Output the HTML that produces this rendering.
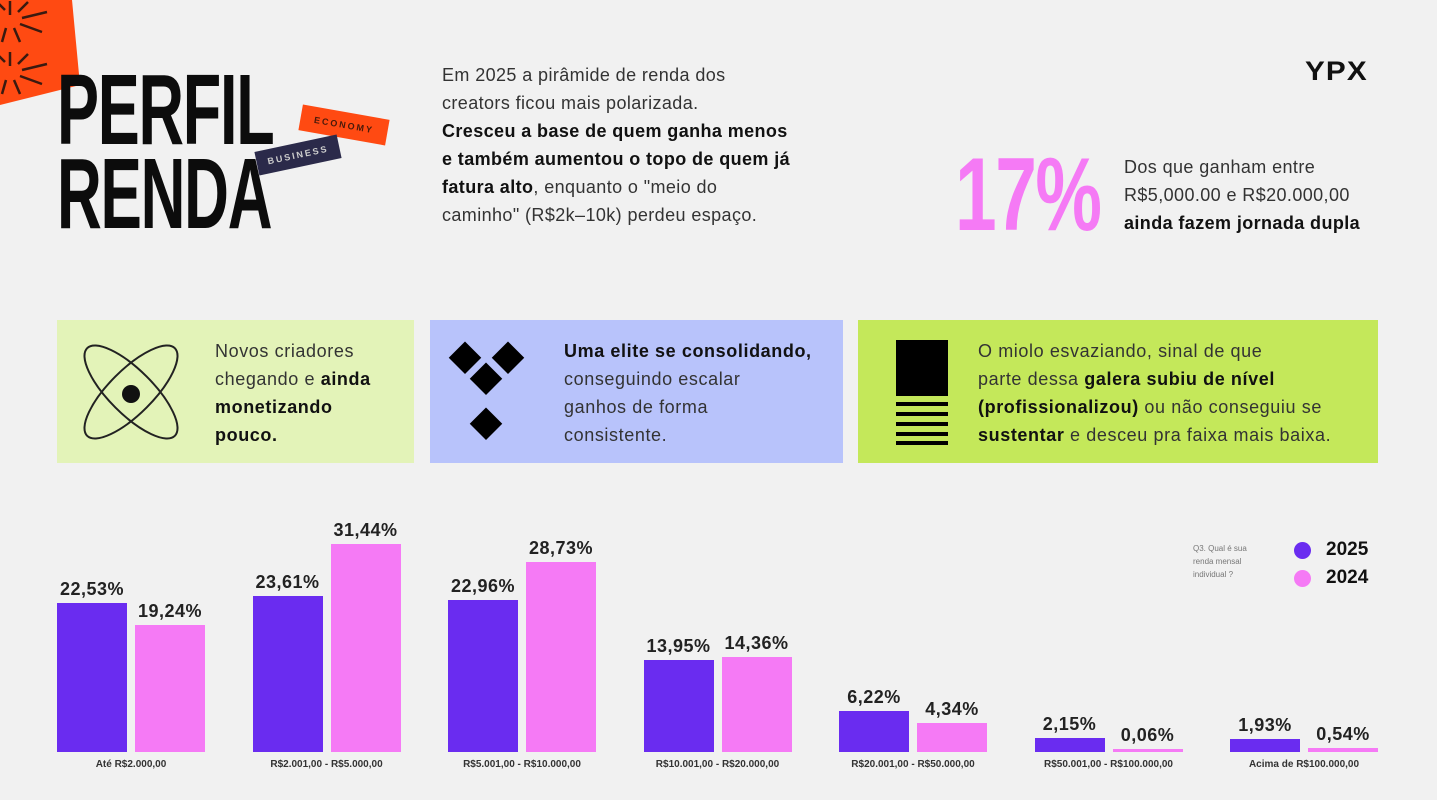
<!DOCTYPE html>
<html><head><meta charset="utf-8">
<style>
body{margin:0;width:1437px;height:800px;background:#f1f1f1;position:relative;overflow:hidden;font-family:"Liberation Sans",sans-serif;color:#222}
.a{position:absolute}
.big{font-weight:900;font-size:100px;line-height:1;transform-origin:0 0;color:#0c0c0c;letter-spacing:-2px}
.p{font-size:18px;line-height:28px;color:#333;letter-spacing:0.4px;white-space:nowrap}
.p b{color:#111}
.panel{position:absolute;top:320px;height:143px}
.pt{position:absolute;font-size:18px;line-height:28px;color:#333;letter-spacing:0.6px;white-space:nowrap}
.pt b{color:#111}
</style></head><body>
<svg class="a" style="left:0;top:0" width="90" height="110">
<polygon points="0,0 72,0 80,85 0,105" fill="#ff4a12"/>
<g stroke="#3a1a10" stroke-width="2.5" fill="none">
<path d="M5,10 l-8,-8 M10,15 l0,-14 M18,12 l10,-10 M22,18 l25,-6 M20,24 l22,8 M14,28 l6,14 M6,28 l-4,14"/>
<path d="M5,62 l-8,-8 M10,66 l0,-14 M18,64 l10,-10 M22,70 l25,-6 M20,76 l22,8 M14,80 l6,14 M6,80 l-4,14"/>
</g></svg>
<div class="a big" style="left:57px;top:60px;transform:scaleX(0.63)">PERFIL</div>
<div class="a big" style="left:57px;top:144px;transform:scaleX(0.62)">RENDA</div>
<div class="a" style="left:300px;top:112px;width:88px;height:26px;background:#ff4a12;transform:rotate(10deg);font-size:9px;font-weight:bold;letter-spacing:2px;text-align:center;line-height:26px;color:#4a1a0a">ECONOMY</div>
<div class="a" style="left:256px;top:143px;width:84px;height:24px;background:#2b2a4a;transform:rotate(-12deg);font-size:9px;font-weight:bold;letter-spacing:2px;text-align:center;line-height:24px;color:#ccc">BUSINESS</div>
<div class="a p" style="left:442px;top:61px">Em 2025 a pirâmide de renda dos<br>creators ficou mais polarizada.<br><b>Cresceu a base de quem ganha menos<br>e também aumentou o topo de quem já<br>fatura alto</b>, enquanto o "meio do<br>caminho" (R$2k–10k) perdeu espaço.</div>
<div class="a" style="left:1305px;top:56px;font-size:27px;font-weight:900;color:#111;letter-spacing:1px;transform:scaleX(1.1);transform-origin:0 0">YPX</div>
<div class="a big" style="left:955px;top:143px;color:#f57af5;font-size:104px;transform:scaleX(0.72)">17%</div>
<div class="a p" style="left:1124px;top:153px">Dos que ganham entre<br>R$5,000.00 e R$20.000,00<br><b>ainda fazem jornada dupla</b></div>

<div class="panel" style="left:57px;width:357px;background:#e3f3b8">
<svg class="a" style="left:20px;top:18px" width="110" height="110"><g fill="none" stroke="#222" stroke-width="2"><ellipse cx="54" cy="54" rx="62" ry="22" transform="rotate(45 54 54)"/><ellipse cx="54" cy="54" rx="62" ry="22" transform="rotate(-45 54 54)"/></g><circle cx="54" cy="56" r="9" fill="#111"/></svg>
<div class="pt" style="left:158px;top:17px">Novos criadores<br>chegando e <b>ainda<br>monetizando<br>pouco.</b></div></div>
<div class="panel" style="left:430px;width:413px;background:#b8c3fb">
<svg class="a" style="left:18px;top:20px" width="85" height="105"><g fill="#000"><rect x="6" y="6" width="23" height="23" transform="rotate(45 17 17)"/><rect x="49" y="6" width="23" height="23" transform="rotate(45 60 17)"/><rect x="27" y="27" width="23" height="23" transform="rotate(45 38 38)"/><rect x="27" y="72" width="23" height="23" transform="rotate(45 38 83)"/></g></svg>
<div class="pt" style="left:134px;top:17px"><b>Uma elite se consolidando,</b><br>conseguindo escalar<br>ganhos de forma<br>consistente.</div></div>
<div class="panel" style="left:858px;width:520px;background:#c4e85a">
<svg class="a" style="left:22px;top:20px" width="68" height="105"><rect x="16" y="0" width="52" height="56" fill="#000"/><g fill="#000"><rect x="16" y="62" width="52" height="4"/><rect x="16" y="72" width="52" height="4"/><rect x="16" y="82" width="52" height="4"/><rect x="16" y="92" width="52" height="4"/><rect x="16" y="101" width="52" height="4"/></g></svg>
<div class="pt" style="left:120px;top:17px">O miolo esvaziando, sinal de que<br>parte dessa <b>galera subiu de nível<br>(profissionalizou)</b> ou não conseguiu se<br><b>sustentar</b> e desceu pra faixa mais baixa.</div></div>

<div class="a" style="left:1193px;top:542px;font-size:8px;line-height:13px;color:#777">Q3. Qual é sua<br>renda mensal<br>individual ?</div>
<div class="a" style="left:1294px;top:542px;width:17px;height:17px;border-radius:50%;background:#6a2cf0"></div>
<div class="a" style="left:1326px;top:539px;font-size:19px;font-weight:bold;color:#111">2025</div>
<div class="a" style="left:1294px;top:570px;width:17px;height:17px;border-radius:50%;background:#f57af5"></div>
<div class="a" style="left:1326px;top:567px;font-size:19px;font-weight:bold;color:#111">2024</div>

<div id="chart" class="a" style="left:0;top:0;width:1437px;height:800px"></div>
<script>
const categories=["Até R$2.000,00","R$2.001,00 - R$5.000,00","R$5.001,00 - R$10.000,00","R$10.001,00 - R$20.000,00","R$20.001,00 - R$50.000,00","R$50.001,00 - R$100.000,00","Acima de R$100.000,00"];
const values2025=[22.53,23.61,22.96,13.95,6.22,2.15,1.93];
const values2024=[19.24,31.44,28.73,14.36,4.34,0.06,0.54];
const baseY=752, scale=6.6, x0=57, pitch=195.5, bw=70, gap=8;
const fmt=v=>v.toFixed(2).replace('.',',')+'%';
const c=document.getElementById('chart');
function mk(css,txt){const d=document.createElement('div');d.className='a';d.style.cssText=css;if(txt!==undefined)d.textContent=txt;c.appendChild(d);return d;}
categories.forEach((cat,i)=>{
 const gx=x0+i*pitch;
 [[values2025[i],'#6a2cf0',gx],[values2024[i],'#f57af5',gx+bw+gap]].forEach(([v,col,bx],k)=>{
  const h=Math.max(v*scale,3);
  const b=mk(`left:${bx}px;top:${baseY-h}px;width:${bw}px;height:${h}px;background:${col}`);
  
  
  const l=mk(`left:${bx-15}px;width:${bw+30}px;text-align:center;top:${baseY-h-24}px;font-size:18px;font-weight:bold;color:#222;letter-spacing:0.5px`,fmt(v));
  
  
 });
 const t=mk(`left:${gx-20}px;width:${2*bw+gap+40}px;text-align:center;top:759px;font-size:10px;font-weight:bold;color:#333`,cat);
 
 
});
</script>
</body></html>
